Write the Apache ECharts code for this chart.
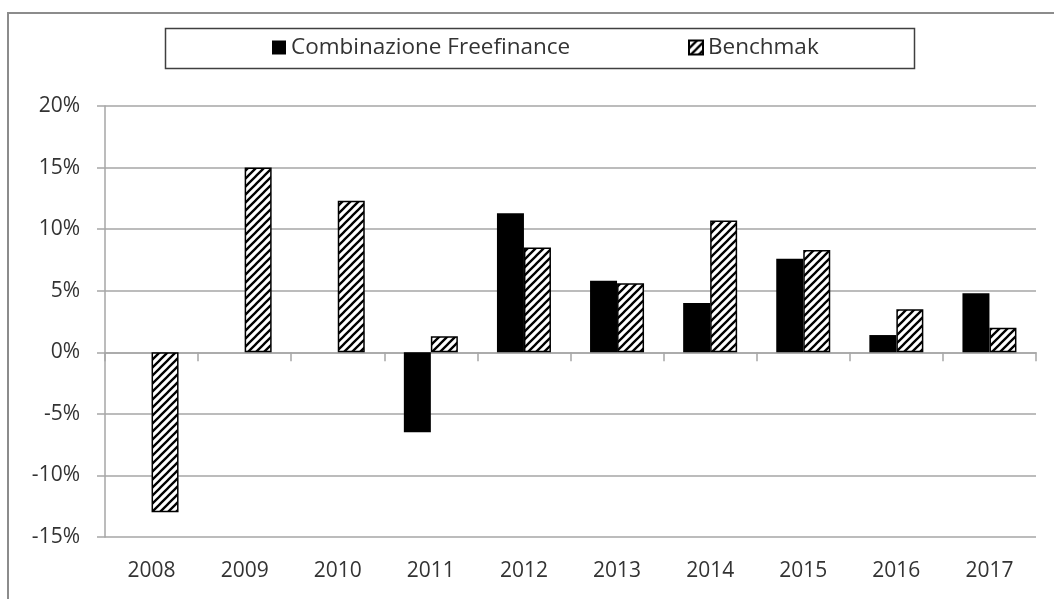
<!DOCTYPE html>
<html>
<head>
<meta charset="utf-8">
<script src="https://cdn.jsdelivr.net/npm/echarts@6/dist/echarts.min.js"></script>
<style>
  html, body { margin: 0; padding: 0; background: #fff; }
  #chart { width: 1054px; height: 599px; }
</style>
</head>
<body>
<div id="chart"></div>
<script>
// data, in percent
const years = ['2008', '2009', '2010', '2011', '2012', '2013', '2014', '2015', '2016', '2017'];
const freefinance = [null, null, null, -6.5, 11.3, 5.8, 4.0, 7.6, 1.4, 4.8];
const benchmark = [-13.0, 15.0, 12.3, 1.3, 8.5, 5.6, 10.7, 8.3, 3.5, 2.0];
const yTicks = { min: -15, max: 20, step: 5 };

const FONT = '"Open Sans", sans-serif';
const FONT_SIZE = 21;
const TEXT = '#333';
const GRID = '#a6a6a6';

// hatch pattern "/" for the benchmark bars
function makeHatch() {
    let c = document.createElement('canvas');
    c.width = 8; c.height = 8;
    let g = c.getContext('2d');
    g.fillStyle = '#fff';
    g.fillRect(0, 0, 8, 8);
    g.strokeStyle = '#000';
    g.lineWidth = 2.3;
    g.beginPath();
    g.moveTo(-2, 10); g.lineTo(10, -2);
    g.moveTo(-2, 2); g.lineTo(2, -2);
    g.moveTo(6, 10); g.lineTo(10, 6);
    g.stroke();
    return c;
}
const hatch = { image: makeHatch(), repeat: 'repeat' };

let chart = echarts.init(document.getElementById('chart'));

let legendText = { fontFamily: FONT, fontSize: 22.5, color: TEXT };

chart.setOption({
    animation: false,
    textStyle: { fontFamily: FONT },
    graphic: [
        {
            type: 'rect', silent: true,
            shape: { x: 8, y: 13, width: 1060, height: 600 },
            style: { fill: 'none', stroke: '#8c8c8c', lineWidth: 2 }
        },
        {
            type: 'rect', silent: true,
            shape: { x: 165.5, y: 28.5, width: 749, height: 40 },
            style: { fill: 'none', stroke: '#404040', lineWidth: 1.5 }
        }
    ],
    legend: [
        {
            data: [{ name: 'Combinazione Freefinance', icon: 'rect' }],
            left: 272, top: 36, padding: 0,
            itemWidth: 14, itemHeight: 14, itemGap: 4,
            textStyle: legendText
        },
        {
            data: [{ name: 'Benchmak', icon: 'rect' }],
            left: 688, top: 36, padding: 0,
            itemWidth: 14, itemHeight: 14, itemGap: 4,
            textStyle: legendText
        }
    ],
    grid: { left: 105, right: 18, top: 106, bottom: 62 },
    xAxis: [
        {
            type: 'category',
            data: years,
            position: 'bottom',
            axisLine: { onZero: true, lineStyle: { color: GRID, width: 1.5 } },
            axisTick: { show: true, length: 9, interval: 0, lineStyle: { color: GRID, width: 1.5 } },
            axisLabel: { show: false }
        },
        {
            type: 'category',
            data: years,
            position: 'bottom',
            axisLine: { show: false, onZero: false },
            axisTick: { show: false },
            axisLabel: { margin: 24, fontSize: FONT_SIZE, color: TEXT, fontFamily: FONT }
        }
    ],
    yAxis: {
        type: 'value',
        min: yTicks.min, max: yTicks.max, interval: yTicks.step,
        axisLine: { show: true, lineStyle: { color: GRID, width: 1.5 } },
        axisTick: { show: true, length: 8, lineStyle: { color: GRID, width: 1.5 } },
        axisLabel: {
            margin: 25, fontSize: FONT_SIZE, color: TEXT, fontFamily: FONT,
            formatter: (v) => v + '%'
        },
        splitLine: { lineStyle: { color: GRID, width: 1.5 } }
    },
    series: [
        {
            name: 'Combinazione Freefinance',
            type: 'bar',
            xAxisIndex: 0,
            data: freefinance,
            barWidth: 27,
            barGap: '0%',
            itemStyle: { color: '#000' }
        },
        {
            name: 'Benchmak',
            type: 'bar',
            xAxisIndex: 0,
            data: benchmark,
            barWidth: 27,
            barGap: '0%',
            itemStyle: { color: hatch, borderColor: '#000', borderWidth: 1.5 }
        }
    ]
});
</script>
</body>
</html>
